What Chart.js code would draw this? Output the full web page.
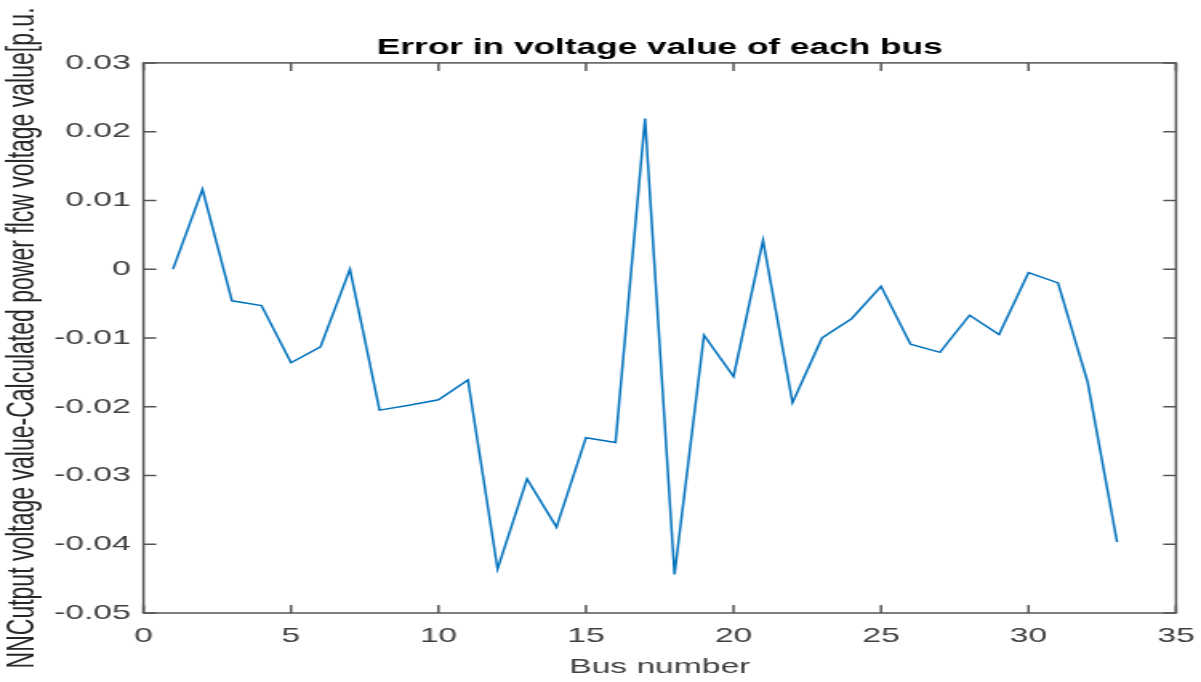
<!DOCTYPE html>
<html>
<head>
<meta charset="utf-8">
<title>Error in voltage value of each bus</title>
<script src="https://cdn.jsdelivr.net/npm/chart.js@4/dist/chart.umd.min.js"></script>
<style>
    html, body { margin: 0; padding: 0; background: #fff; overflow: hidden; }
</style>
</head>
<body>
<!-- the reference figure is stretched sideways, so the canvas is drawn narrow and widened by css -->
<canvas id="errChart" width="750" height="682" style="width:1201px;height:682px;display:block"></canvas>
<script>
// Bus numbers (x axis)
const busNumbers = [1, 2, 3, 4, 5, 6, 7, 8, 9, 10, 11, 12, 13, 14, 15, 16, 17,
    18, 19, 20, 21, 22, 23, 24, 25, 26, 27, 28, 29, 30, 31, 32, 33];

// NN output voltage - power flow voltage, p.u.
const voltageError = [0.0000, 0.0116, -0.0046, -0.0053, -0.0136, -0.0113, 0.0000,
    -0.0205, -0.0198, -0.0190, -0.0161, -0.0436, -0.0305, -0.0375, -0.0245,
    -0.0252, 0.0219, -0.0444, -0.0096, -0.0156, 0.0042, -0.0194, -0.0100,
    -0.0072, -0.0025, -0.0109, -0.0121, -0.0067, -0.0095, -0.0005, -0.0020,
    -0.0164, -0.0397];

// Tick values for both axes
const xTicks = [0, 5, 10, 15, 20, 25, 30, 35];
const yTicks = [-0.05, -0.04, -0.03, -0.02, -0.01, 0, 0.01, 0.02, 0.03];

const axisColor = '#555555';
const tickLen = 8;

// MATLAB style box with inward ticks on all four sides
const boxAxes = {
    id: 'boxAxes',
    afterDraw(chart) {
        const {ctx, chartArea: a, scales: {x, y}} = chart;
        ctx.save();
        ctx.strokeStyle = axisColor;
        ctx.lineWidth = 1.5;
        ctx.strokeRect(a.left, a.top, a.right - a.left, a.bottom - a.top);
        ctx.beginPath();
        x.ticks.forEach(t => {
            const px = x.getPixelForValue(t.value);
            ctx.moveTo(px, a.bottom);
            ctx.lineTo(px, a.bottom - tickLen);
            ctx.moveTo(px, a.top);
            ctx.lineTo(px, a.top + tickLen);
        });
        y.ticks.forEach(t => {
            const py = y.getPixelForValue(t.value);
            ctx.moveTo(a.left, py);
            ctx.lineTo(a.left + tickLen, py);
            ctx.moveTo(a.right, py);
            ctx.lineTo(a.right - tickLen, py);
        });
        ctx.stroke();
        ctx.restore();
    }
};

const ctx = document.getElementById('errChart').getContext('2d');

new Chart(ctx, {
    type: 'line',
    data: {
        datasets: [{
            label: 'Voltage error',
            data: busNumbers.map((b, i) => ({x: b, y: voltageError[i]})),
            borderColor: '#0072bd',
            borderWidth: 1.5,
            pointRadius: 0,
            tension: 0,
            fill: false
        }]
    },
    options: {
        responsive: false,
        devicePixelRatio: 1,
        animation: false,
        layout: {
            padding: {left: 0, right: 15.6, top: 0, bottom: 0}
        },
        plugins: {
            legend: {display: false},
            tooltip: {enabled: false},
            title: {
                display: true,
                text: 'Error in voltage value of each bus',
                fullSize: false,
                color: '#000',
                font: {family: 'Liberation Sans', size: 22, weight: 'bold'},
                padding: {top: 34.5, bottom: 2}
            }
        },
        scales: {
            x: {
                type: 'linear',
                min: 0,
                max: 35,
                afterBuildTicks: s => { s.ticks = xTicks.map(v => ({value: v})); },
                afterFit: s => {
                    s.height = 69;
                    // keep the label overhang from pushing the plot edges in
                    s.paddingLeft = 0;
                    s.paddingRight = 0;
                },
                grid: {display: false, drawTicks: false},
                border: {display: false},
                ticks: {
                    padding: 11,
                    color: '#404040',
                    font: {family: 'Liberation Sans', size: 21},
                    maxRotation: 0,
                    callback: v => String(v)
                },
                title: {
                    display: true,
                    text: 'Bus number',
                    color: '#404040',
                    font: {family: 'Liberation Sans', size: 21},
                    padding: {top: 0, bottom: 2}
                }
            },
            y: {
                type: 'linear',
                min: -0.05,
                max: 0.03,
                afterBuildTicks: s => { s.ticks = yTicks.map(v => ({value: v})); },
                afterFit: s => { s.width = 89.6; },
                grid: {display: false, drawTicks: false},
                border: {display: false},
                ticks: {
                    padding: 8,
                    color: '#404040',
                    font: {family: 'Liberation Sans', size: 21},
                    callback: v => String(parseFloat(v.toFixed(2)))
                },
                title: {
                    display: true,
                    text: 'NNCutput voltage value-Calculated power flcw voltage value[p.u.',
                    color: '#262626',
                    font: {family: 'Liberation Sans', size: 23},
                    padding: {top: 1, bottom: 0}
                }
            }
        }
    },
    plugins: [boxAxes]
});
</script>
</body>
</html>
